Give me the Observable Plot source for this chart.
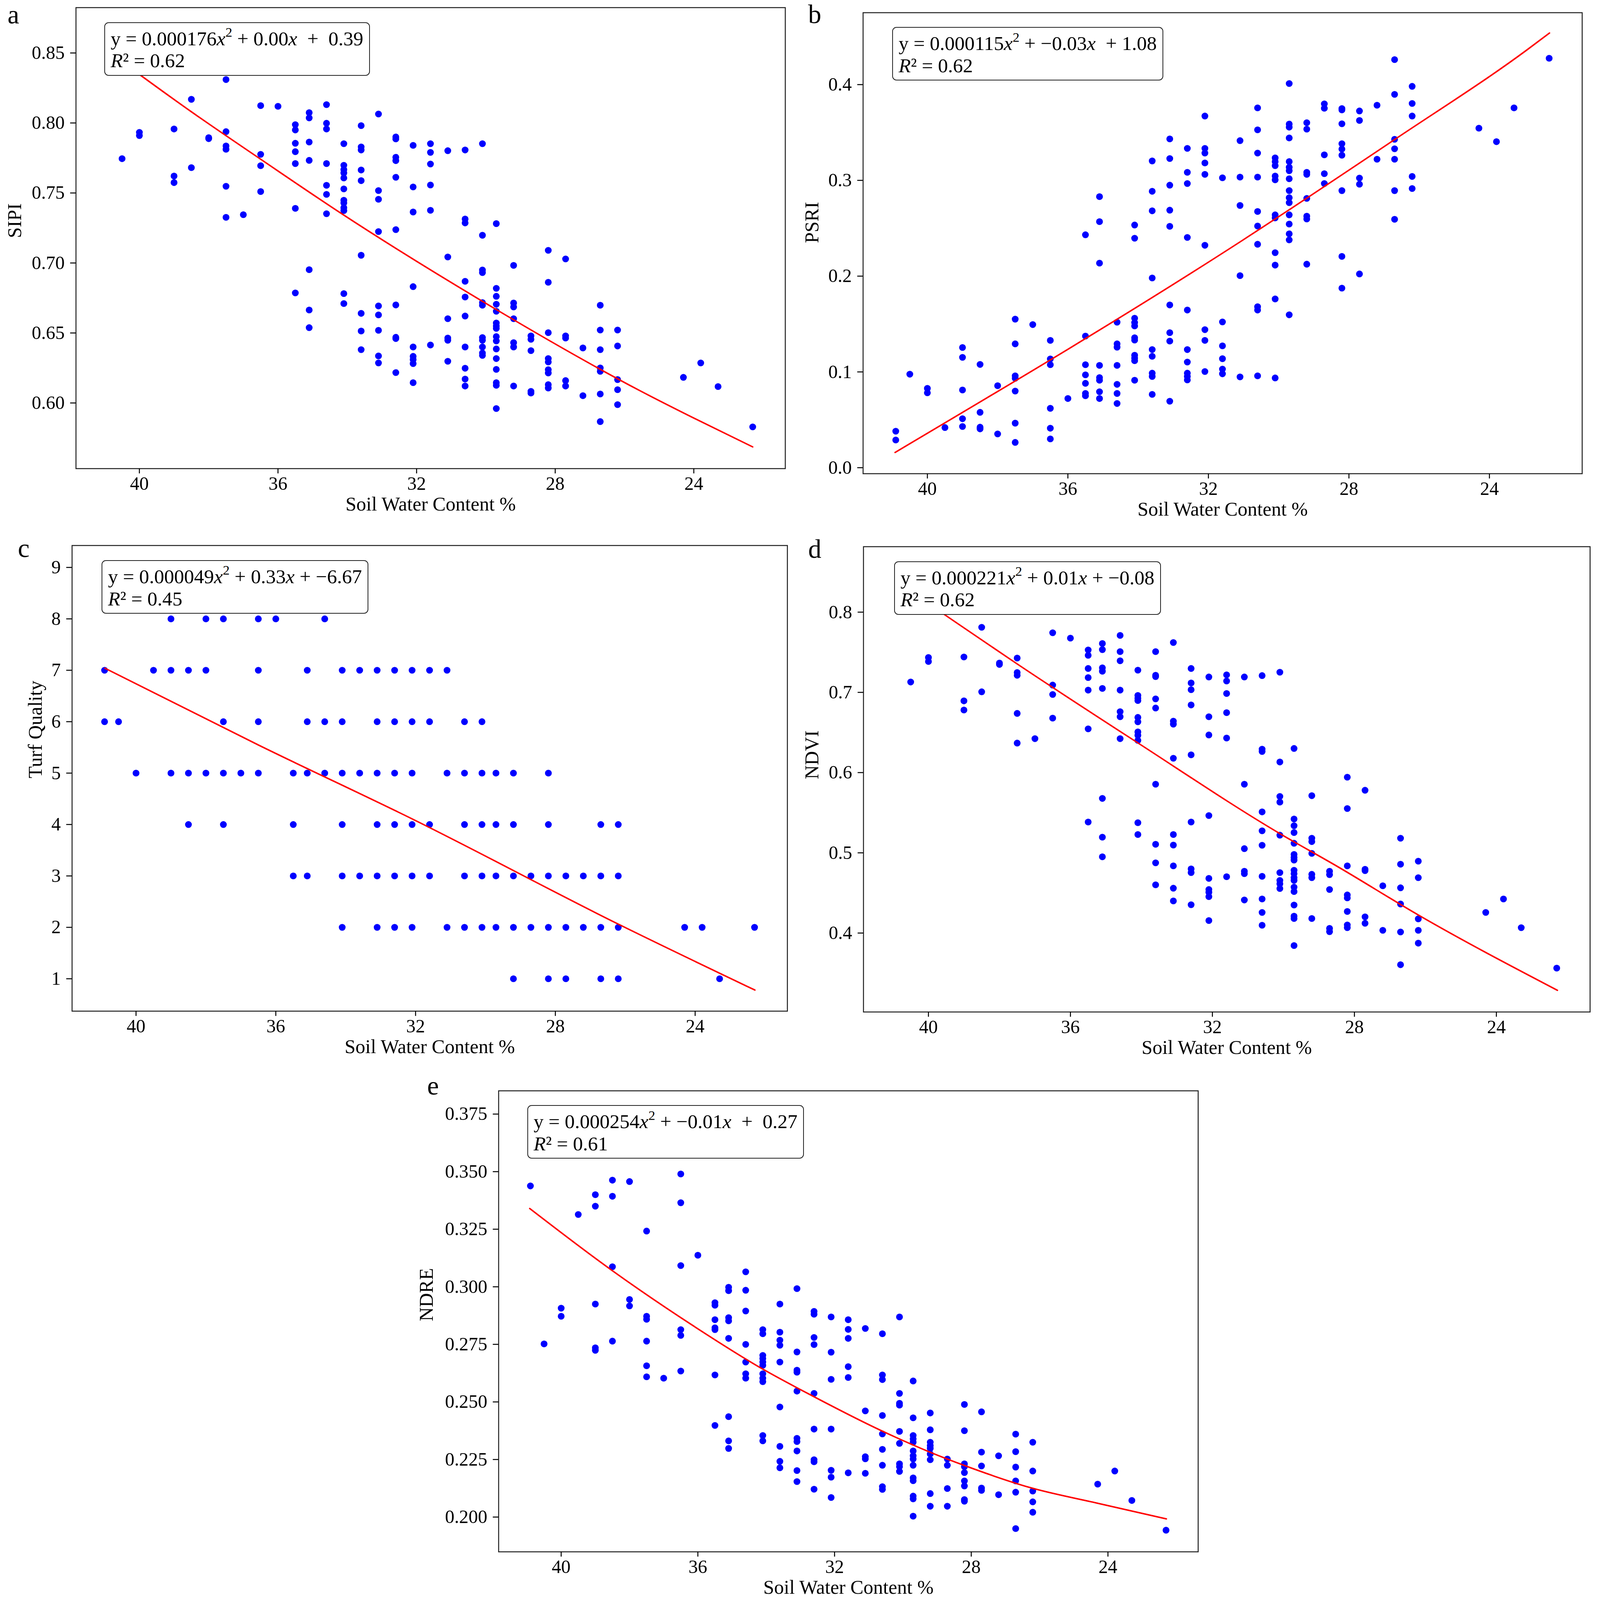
<!DOCTYPE html>
<html>
<head>
<meta charset="utf-8">
<script src="https://cdn.jsdelivr.net/npm/d3@7"></script>
<script src="https://cdn.jsdelivr.net/npm/@observablehq/plot@0.6"></script>
<style>
  html, body { margin: 0; padding: 0; background: #fff; overflow: hidden; }
  #page { position: relative; background: #fff; overflow: hidden;
          font-family: "Liberation Serif", "Times New Roman", serif; color: #000; }
  .panel { position: absolute; }
  .eq { position: absolute; background: #fff; border: 2.6px solid #222; border-radius: 11px;
        white-space: nowrap; color: #000; box-sizing: border-box;
        font-family: "Liberation Serif", "Times New Roman", serif; }
  .eq sup { font-size: 0.68em; line-height: 0; vertical-align: 0; position: relative; top: -0.62em; }
</style>
</head>
<body>
<div id="page"></div>
<script>
// ---------------- data ----------------
const swc = [40.9, 40.5, 40.0, 39.5, 39.0, 38.5, 38.0, 37.5, 37.0, 36.5, 36.0, 35.5, 35.1, 34.6, 34.1, 33.6, 33.1, 32.6, 32.1, 31.6, 31.1, 30.6, 30.1, 29.7, 29.2, 28.7, 28.2, 27.7, 27.2, 26.7, 26.2, 24.3, 23.8, 23.3, 22.3];

const xTicks = [40, 36, 32, 28, 24];
const xLabel = "Soil Water Content %";

const sipiTicks = [0.60, 0.65, 0.70, 0.75, 0.80, 0.85];
const psriTicks = [0.0, 0.1, 0.2, 0.3, 0.4];
const turfTicks = [1, 2, 3, 4, 5, 6, 7, 8, 9];
const ndviTicks = [0.4, 0.5, 0.6, 0.7, 0.8];
const ndreTicks = [0.200, 0.225, 0.250, 0.275, 0.300, 0.325, 0.350, 0.375];

const yNames = ["SIPI", "PSRI", "Turf Quality", "NDVI", "NDRE"];
const letters = ["a", "b", "c", "d", "e"];

// values per soil-water-content column (same order as swc)
const sipi = [
  [], [0.7745], [0.7933, 0.7910], [], [0.7957, 0.7621, 0.7574], [0.8169, 0.7681], [0.7895, 0.7888],
  [0.8310, 0.7938, 0.7836, 0.7812, 0.7548, 0.7326], [0.7345], [0.8124, 0.7776, 0.7695, 0.7510], [0.8119],
  [0.7988, 0.7950, 0.7855, 0.7795, 0.7710, 0.7390, 0.6786],
  [0.8074, 0.8036, 0.7864, 0.7733, 0.6952, 0.6664, 0.6538],
  [0.8131, 0.7998, 0.7957, 0.7710, 0.7555, 0.7490, 0.7352],
  [0.7852, 0.7698, 0.7667, 0.7643, 0.7607, 0.7529, 0.7448, 0.7429, 0.7395, 0.7374, 0.6781, 0.6710],
  [0.7981, 0.7829, 0.7807, 0.7664, 0.7588, 0.7055, 0.6640, 0.6514, 0.6381],
  [0.8064, 0.7517, 0.7455, 0.7224, 0.6693, 0.6629, 0.6519, 0.6336, 0.6286],
  [0.7900, 0.7886, 0.7755, 0.7731, 0.7612, 0.7238, 0.6700, 0.6469, 0.6460, 0.6217],
  [0.7840, 0.7543, 0.7364, 0.6831, 0.6400, 0.6333, 0.6310, 0.6281, 0.6145],
  [0.7852, 0.7790, 0.7707, 0.7557, 0.7376, 0.6414],
  [0.7802, 0.7043, 0.6602, 0.6464, 0.6448, 0.6298],
  [0.7807, 0.7314, 0.7286, 0.6869, 0.6757, 0.6621, 0.6400, 0.6248, 0.6171, 0.6121],
  [0.7852, 0.7198, 0.6950, 0.6931, 0.6717, 0.6698, 0.6467, 0.6448, 0.6400, 0.6357, 0.6340],
  [0.7281, 0.6819, 0.6762, 0.6705, 0.6655, 0.6571, 0.6550, 0.6533, 0.6474, 0.6443, 0.6386, 0.6317, 0.6240, 0.6145, 0.6126, 0.5960],
  [0.6983, 0.6714, 0.6686, 0.6602, 0.6431, 0.6400, 0.6121],
  [0.6479, 0.6455, 0.6374, 0.6083, 0.6071],
  [0.7090, 0.6862, 0.6502, 0.6317, 0.6293, 0.6238, 0.6214, 0.6131, 0.6107],
  [0.7029, 0.6479, 0.6464, 0.6160, 0.6121],
  [0.6393, 0.6052],
  [0.6698, 0.6521, 0.6381, 0.6250, 0.6226, 0.6064, 0.5867],
  [0.6521, 0.6407, 0.6167, 0.6095, 0.5988],
  [0.6183], [0.6286], [0.6117], [0.5829]
];

const psri = [
  [0.0381, 0.0289], [0.0976], [0.0828, 0.0782], [0.0419], [0.1255, 0.1152, 0.0811, 0.0511, 0.0430],
  [0.1078, 0.0578, 0.0423, 0.0405], [0.0856, 0.0352], [0.1551, 0.1293, 0.0959, 0.0934, 0.0800, 0.0465, 0.0264],
  [0.1494], [0.1329, 0.1135, 0.1075, 0.0620, 0.0412, 0.0300], [0.0722],
  [0.2432, 0.1374, 0.1075, 0.0969, 0.0881, 0.0775, 0.0751],
  [0.2830, 0.2569, 0.2136, 0.1068, 0.0941, 0.0913, 0.0793, 0.0722],
  [0.1519, 0.1293, 0.1258, 0.1068, 0.0870, 0.0775, 0.0670],
  [0.2534, 0.2396, 0.1561, 0.1515, 0.1480, 0.1357, 0.1332, 0.1174, 0.1145, 0.1117, 0.0913],
  [0.3203, 0.2886, 0.2682, 0.1981, 0.1233, 0.1163, 0.0987, 0.0952, 0.0765],
  [0.3433, 0.3228, 0.2950, 0.2689, 0.2520, 0.1699, 0.1410, 0.1322, 0.0694],
  [0.3334, 0.3084, 0.2967, 0.2404, 0.1646, 0.1233, 0.1103, 0.0987, 0.0952, 0.0916],
  [0.3672, 0.3334, 0.3285, 0.3182, 0.3063, 0.2322, 0.1441, 0.1329, 0.1004],
  [0.3027, 0.1522, 0.1272, 0.1138, 0.1029, 0.0980],
  [0.3415, 0.3034, 0.2738, 0.2005, 0.0948],
  [0.3757, 0.3528, 0.3285, 0.3034, 0.2675, 0.2523, 0.2333, 0.1681, 0.1646, 0.0959],
  [0.3235, 0.3196, 0.3154, 0.3045, 0.3006, 0.2640, 0.2608, 0.2245, 0.2115, 0.1762, 0.0937],
  [0.4011, 0.3588, 0.3556, 0.3443, 0.3196, 0.3137, 0.3101, 0.3017, 0.2893, 0.2819, 0.2767, 0.2640, 0.2544, 0.2442, 0.2379, 0.1596],
  [0.3602, 0.3535, 0.3084, 0.3063, 0.2812, 0.2626, 0.2597, 0.2125],
  [0.3799, 0.3753, 0.3267, 0.3070, 0.2967],
  [0.3750, 0.3736, 0.3591, 0.3383, 0.3327, 0.3263, 0.2893, 0.2206, 0.1875],
  [0.3725, 0.3626, 0.3024, 0.2960, 0.2023],
  [0.3785, 0.3221],
  [0.4261, 0.3898, 0.3429, 0.3330, 0.3221, 0.2893, 0.2594],
  [0.3982, 0.3803, 0.3672, 0.3041, 0.2915],
  [0.3545], [0.3404], [0.3757], [0.4275]
];

const turf = [
  [7, 6], [6], [5], [7], [8, 7, 5], [7, 5, 4], [8, 7, 5], [8, 6, 5, 4], [5], [8, 7, 6, 5], [8],
  [5, 4, 3], [7, 6, 5, 3], [8, 6, 5], [7, 6, 5, 4, 3, 2], [7, 5, 3], [7, 6, 5, 4, 3, 2],
  [7, 6, 5, 4, 3, 2], [7, 6, 5, 4, 3, 2], [7, 6, 4, 3], [7, 5, 2], [6, 5, 4, 3, 2], [6, 5, 4, 3, 2],
  [5, 4, 3, 2], [5, 4, 3, 2, 1], [3, 2], [5, 4, 3, 2, 1], [3, 2, 1], [3, 2], [4, 3, 2, 1], [4, 3, 2, 1],
  [2], [2], [1], [2]
];

const ndvi = [
  [], [0.7129], [0.7435, 0.7385], [], [0.7441, 0.6894, 0.6780], [0.7811, 0.7007], [0.7365, 0.7348],
  [0.7428, 0.7247, 0.7213, 0.6738, 0.6368], [0.6423], [0.7743, 0.7091, 0.6974, 0.6679], [0.7676],
  [0.7529, 0.7462, 0.7298, 0.7184, 0.7028, 0.6545, 0.5384],
  [0.7609, 0.7533, 0.7306, 0.7264, 0.7049, 0.5678, 0.5195, 0.4950],
  [0.7710, 0.7508, 0.7394, 0.7028, 0.6759, 0.6696, 0.6423],
  [0.7277, 0.6961, 0.6927, 0.6898, 0.6688, 0.6633, 0.6507, 0.6465, 0.6402, 0.5375, 0.5228],
  [0.7508, 0.7213, 0.7197, 0.6919, 0.6805, 0.5855, 0.5106, 0.4875, 0.4601],
  [0.7621, 0.6641, 0.6604, 0.6179, 0.5228, 0.5097, 0.4837, 0.4559, 0.4400],
  [0.7298, 0.7117, 0.7033, 0.6843, 0.6221, 0.5384, 0.4799, 0.4753, 0.4353],
  [0.7192, 0.6696, 0.6469, 0.5464, 0.4681, 0.4543, 0.4509, 0.4454, 0.4156],
  [0.7218, 0.7142, 0.6986, 0.6747, 0.6431, 0.4702],
  [0.7192, 0.5855, 0.5052, 0.4770, 0.4740, 0.4412],
  [0.7209, 0.6292, 0.6263, 0.5510, 0.5274, 0.5094, 0.4707, 0.4425, 0.4257, 0.4097],
  [0.7251, 0.6132, 0.5703, 0.5632, 0.5220, 0.4753, 0.4656, 0.4614, 0.4555],
  [0.6301, 0.5422, 0.5338, 0.5253, 0.5119, 0.4980, 0.4942, 0.4909, 0.4782, 0.4740, 0.4690, 0.4656, 0.4572, 0.4517, 0.4349, 0.4210, 0.4181, 0.3844],
  [0.5712, 0.5182, 0.5140, 0.4993, 0.4732, 0.4690, 0.4181],
  [0.4770, 0.4728, 0.4543, 0.4058, 0.4017],
  [0.5943, 0.5552, 0.4837, 0.4475, 0.4438, 0.4269, 0.4101, 0.4067],
  [0.5780, 0.4795, 0.4778, 0.4202, 0.4122],
  [0.4589, 0.4034],
  [0.5182, 0.4858, 0.4564, 0.4362, 0.4013, 0.3605],
  [0.4896, 0.4690, 0.4177, 0.4034, 0.3874],
  [0.4257], [0.4425], [0.4067], [0.3563]
];

const ndre = [
  [0.3438], [0.2752], [0.2907, 0.2872], [0.3314], [0.3400, 0.3350, 0.2925, 0.2735, 0.2724],
  [0.3463, 0.3393, 0.3087, 0.2764], [0.3457, 0.2945, 0.2917], [0.3242, 0.2872, 0.2859, 0.2764, 0.2657, 0.2609],
  [0.2603], [0.3490, 0.3365, 0.3092, 0.2814, 0.2789, 0.2634], [0.3137],
  [0.2931, 0.2920, 0.2857, 0.2822, 0.2814, 0.2617, 0.2398],
  [0.2998, 0.2983, 0.2866, 0.2852, 0.2776, 0.2436, 0.2331, 0.2298],
  [0.3065, 0.2985, 0.2895, 0.2750, 0.2673, 0.2622, 0.2603],
  [0.2814, 0.2796, 0.2702, 0.2688, 0.2673, 0.2659, 0.2622, 0.2603, 0.2588, 0.2354, 0.2331],
  [0.2925, 0.2803, 0.2768, 0.2746, 0.2673, 0.2478, 0.2307, 0.2242, 0.2214],
  [0.2992, 0.2717, 0.2638, 0.2629, 0.2547, 0.2342, 0.2328, 0.2287, 0.2202, 0.2154],
  [0.2893, 0.2881, 0.2780, 0.2749, 0.2537, 0.2382, 0.2249, 0.2240, 0.2121],
  [0.2869, 0.2716, 0.2598, 0.2382, 0.2203, 0.2173, 0.2085],
  [0.2857, 0.2815, 0.2776, 0.2653, 0.2606, 0.2192],
  [0.2819, 0.2461, 0.2262, 0.2253, 0.2190],
  [0.2796, 0.2617, 0.2597, 0.2441, 0.2361, 0.2294, 0.2225, 0.2132, 0.2120],
  [0.2869, 0.2537, 0.2494, 0.2486, 0.2372, 0.2320, 0.2231, 0.2219, 0.2198],
  [0.2591, 0.2431, 0.2354, 0.2339, 0.2325, 0.2287, 0.2266, 0.2252, 0.2225, 0.2170, 0.2158, 0.2091, 0.2079, 0.2004],
  [0.2452, 0.2379, 0.2325, 0.2310, 0.2298, 0.2274, 0.2249, 0.2102, 0.2047],
  [0.2252, 0.2225, 0.2124, 0.2047],
  [0.2489, 0.2375, 0.2231, 0.2219, 0.2193, 0.2157, 0.2135, 0.2076, 0.2069],
  [0.2457, 0.2282, 0.2222, 0.2126, 0.2116],
  [0.2266, 0.2097],
  [0.2360, 0.2284, 0.2217, 0.2157, 0.2108, 0.1950],
  [0.2325, 0.2200, 0.2113, 0.2066, 0.2021],
  [0.2143], [0.2200], [0.2072], [0.1943]
];

// fitted curves
const fitSipiX = [40.9, 38.5, 36.41, 34.2, 30.18, 25.55, 24.0, 22.3];
const fitSipiY = [0.851, 0.808, 0.7726, 0.7358, 0.6738, 0.6087, 0.5892, 0.5686];
const fitPsriX = [40.92, 31.03, 26.68, 22.93, 22.29];
const fitPsriY = [0.0159, 0.2374, 0.3431, 0.4363, 0.4539];
const fitTurfX = [40.89, 36.48, 32.07, 26.19, 22.29];
const fitTurfY = [7.04, 5.54, 4.10, 2.06, 0.78];
const fitNdviX = [40.9, 39.44, 37.54, 34.11, 30.09, 28.51, 26.18, 22.28];
const fitNdviY = [0.838, 0.7937, 0.7366, 0.6373, 0.5237, 0.4838, 0.422, 0.3286];
const fitNdreX = [40.92, 38.55, 36.15, 34.13, 32.62, 30.6, 29.21, 28.2, 26.3, 24.3, 22.29];
const fitNdreY = [0.334, 0.3075, 0.2832, 0.2645, 0.2524, 0.2373, 0.2282, 0.2224, 0.2129, 0.2060, 0.1992];

// equation labels
const eqLines = [
  'y = 0.000176<i>x</i><sup>2</sup> + 0.00<i>x</i>&nbsp; + &nbsp;0.39',
  'y = 0.000115<i>x</i><sup>2</sup> + &minus;0.03<i>x</i>&nbsp; + 1.08',
  'y = 0.000049<i>x</i><sup>2</sup> + 0.33<i>x</i> + &minus;6.67',
  'y = 0.000221<i>x</i><sup>2</sup> + 0.01<i>x</i> + &minus;0.08',
  'y = 0.000254<i>x</i><sup>2</sup> + &minus;0.01<i>x</i>&nbsp; + &nbsp;0.27'
];
const r2Values = ["0.62", "0.62", "0.45", "0.62", "0.61"];

// ---------------- layout (reference 4252 x 4838 coordinates, mapped to the window) ----------------
const REF_W = 4252, REF_H = 4838;
const VW = window.innerWidth || REF_W, VH = window.innerHeight || REF_H;
const SX = VW / REF_W, SY = VH / REF_H;
const FT = 50 * SX;         // tick labels
const FA = 52 * SX;         // axis titles
const FE = 53 * SX;         // equation box
const FL = 70 * SX;         // panel letter size
const SM = Math.sqrt(SX * SY);

const xDomain = [41.83, 21.36];
const layout = [
  {L: 201,  T: 22,   W: 1885, H: 1394, yDomain: [0.5531, 0.8824], ticks: sipiTicks, fmt: d3.format(".2f"), vals: sipi, fx: fitSipiX, fy: fitSipiY, ylDx: -163, ltDx: -182, ltDy: 48, box: [277, 67]},
  {L: 2293, T: 38,   W: 1911, H: 1394, yDomain: [-0.0063, 0.4751], ticks: psriTicks, fmt: d3.format(".1f"), vals: psri, fx: fitPsriX, fy: fitPsriY, ylDx: -136, ltDx: -146, ltDy: 31, box: [2371, 82]},
  {L: 191,  T: 1649, W: 1901, H: 1408, yDomain: [0.37, 9.4266], ticks: turfTicks, fmt: d3.format("d"), vals: turf, fx: fitTurfX, fy: fitTurfY, ylDx: -97, ltDx: -144, ltDy: 35, box: [270, 1694]},
  {L: 2294, T: 1652, W: 1931, H: 1407, yDomain: [0.3016, 0.8816], ticks: ndviTicks, fmt: d3.format(".1f"), vals: ndvi, fx: fitNdviX, fy: fitNdviY, ylDx: -137, ltDx: -147, ltDy: 34, box: [2376, 1697]},
  {L: 1325, T: 3298, W: 1859, H: 1394, yDomain: [0.1849, 0.3851], ticks: ndreTicks, fmt: d3.format(".3f"), vals: ndre, fx: fitNdreX, fy: fitNdreY, ylDx: -192, ltDx: -190, ltDy: 11, box: [1401, 3342]}
];

const page = document.getElementById("page");
page.style.width = VW + "px";
page.style.height = VH + "px";
const ML = 220, MT = 20, MR = 30, MB = 150;

layout.forEach((p, k) => {
  const pts = swc.flatMap((x, i) => p.vals[i].map(y => ({x, y})));
  const fit = p.fx.map((x, i) => ({x, y: p.fy[i]}));
  const fw = p.W * SX, fh = p.H * SY;
  const chart = Plot.plot({
    width: fw + ML + MR,
    height: fh + MT + MB,
    marginLeft: ML, marginTop: MT, marginRight: MR, marginBottom: MB,
    style: {fontFamily: '"Liberation Serif", "Times New Roman", serif', fontSize: FT + "px", color: "#000",
            background: "transparent", overflow: "visible", maxWidth: "none"},
    x: {domain: xDomain},
    y: {domain: p.yDomain},
    marks: [
      Plot.dot(pts, {x: "x", y: "y", r: 9.6 * SM, fill: "#0000ff"}),
      Plot.line(fit, {x: "x", y: "y", stroke: "#ff0000", strokeWidth: 4.2 * SM, curve: "monotone-x"}),
      Plot.frame({stroke: "#222", strokeWidth: 2.8 * SM}),
      Plot.axisX({ticks: xTicks, tickFormat: d => String(d), tickSize: 15 * SY, tickPadding: 9 * SY,
                  strokeWidth: 2.8 * SM, label: null, fontSize: FT}),
      Plot.axisY({ticks: p.ticks, tickFormat: p.fmt, tickSize: 15 * SX, tickPadding: 15 * SX,
                  strokeWidth: 2.8 * SM, label: null, fontSize: FT}),
      Plot.text([xLabel], {text: d => d, frameAnchor: "bottom", dy: 108 * SY, lineAnchor: "middle", fontSize: FA}),
      Plot.text([yNames[k]], {text: d => d, frameAnchor: "left", dx: p.ylDx * SX, rotate: -90,
                              lineAnchor: "middle", fontSize: FA}),
      Plot.text([letters[k]], {text: d => d, frameAnchor: "top-left", dx: p.ltDx * SX, dy: p.ltDy * SY,
                               lineAnchor: "bottom", textAnchor: "start", fontSize: FL})
    ]
  });
  const div = document.createElement("div");
  div.className = "panel";
  div.style.left = (p.L * SX - ML) + "px";
  div.style.top = (p.T * SY - MT) + "px";
  div.style.width = (fw + ML + MR) + "px";
  div.appendChild(chart);
  page.appendChild(div);

  const eq = document.createElement("div");
  eq.className = "eq";
  eq.style.left = (p.box[0] * SX) + "px";
  eq.style.top = (p.box[1] * SY) + "px";
  eq.style.fontSize = FE + "px";
  eq.style.lineHeight = (67 * SY) + "px";
  eq.style.padding = `${17 * SY - 2.6}px ${15 * SX}px ${9 * SY}px ${15 * SX}px`;
  eq.innerHTML = eqLines[k] + "<br><i>R</i>\u00b2 = " + r2Values[k];
  page.appendChild(eq);
});
</script>
</body>
</html>
